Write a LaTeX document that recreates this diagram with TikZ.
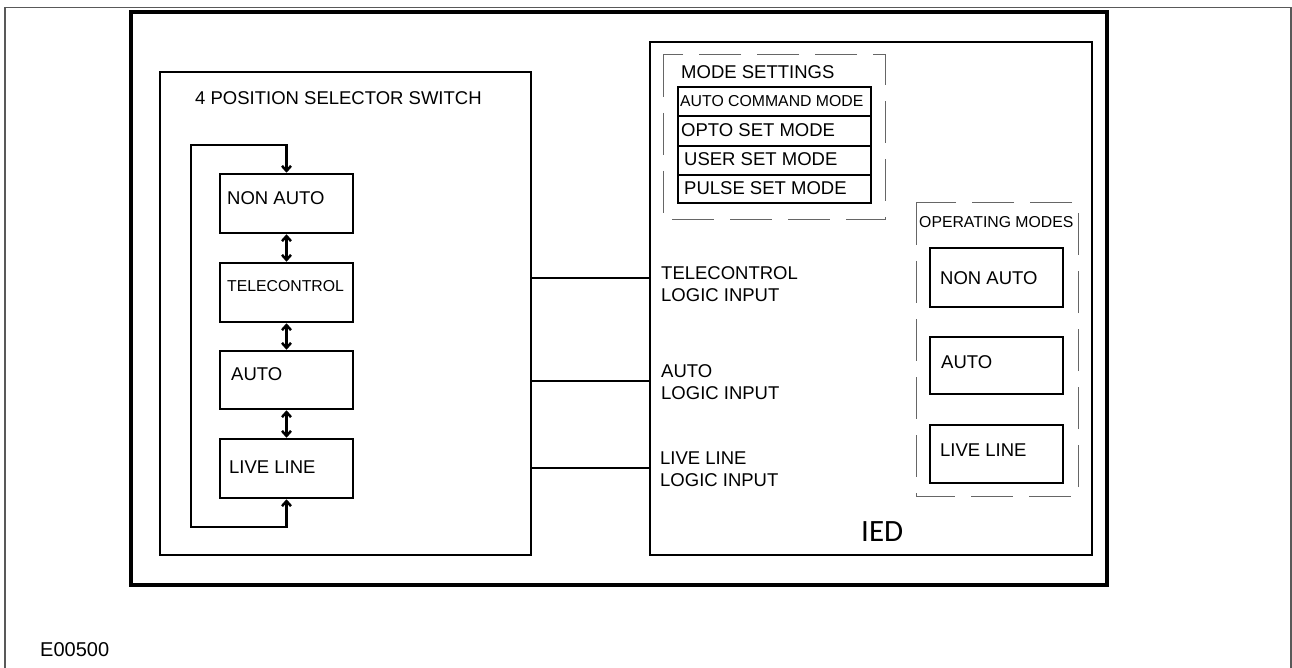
\documentclass[tikz,border=0pt]{standalone}
\usepackage{fontspec}
\setmainfont{Liberation Sans}
\newfontfamily\iedfont{Carlito}
\usetikzlibrary{arrows.meta}
\begin{document}
\begin{tikzpicture}[x=1pt,y=-1pt,
  frame/.style={draw=black!65,line width=1.5},
  mainbox/.style={draw,line width=4},
  bigbox/.style={draw,line width=2.5},
  modebox/.style={draw,line width=2.5,rectangle,inner sep=0pt},
  dbox/.style={draw=black!60,line width=1,dash pattern=on 42 off 16},
  conn/.style={line width=2.5},
  rowline/.style={line width=2},
  txt/.style={inner sep=0pt,anchor=west,font=\fontsize{18.5}{22}\selectfont},
  stxt/.style={inner sep=0pt,anchor=west,font=\fontsize{15.8}{19}\selectfont},
  dbl/.style={line width=2.5,{Straight Barb[length=5,width=9]}-{Straight Barb[length=5,width=9]}},
  sgl/.style={line width=2.5,-{Straight Barb[length=5,width=9]}}
]
\useasboundingbox (0,0) rectangle (1292,668);
\fill[white] (0,0) rectangle (1292,668);
% outer gray frame
\draw[frame] (5,668) -- (5,7.5) -- (1291,7.5) -- (1291,668);
% main box
\draw[mainbox] (131,12) rectangle (1107,585);
% selector switch box and IED box
\node[bigbox,minimum width=371,minimum height=483,inner sep=0pt] (sel) at (345.5,313.5) {};
\node[bigbox,minimum width=442,minimum height=513,inner sep=0pt] (ied) at (871,298.5) {};
\node[txt] (seltitle) at (195,98) {4 POSITION SELECTOR SWITCH};
% selector boxes
\node[modebox,minimum width=133,minimum height=59] (na) at (286.5,203.5) {};
\node[modebox,minimum width=133,minimum height=59] (tc) at (286.5,292.5) {};
\node[modebox,minimum width=133,minimum height=58] (au) at (286.5,380) {};
\node[modebox,minimum width=133,minimum height=59] (ll) at (286.5,468.5) {};
\node[txt] (tna) at (227,198) {NON AUTO};
\node[stxt] (ttc) at (227,286) {TELECONTROL};
\node[txt] (tau) at (231,374) {AUTO};
\node[txt] (tll) at (229,467) {LIVE LINE};
\draw[dbl] (na.south) -- (tc.north);
\draw[dbl] (tc.south) -- (au.north);
\draw[dbl] (au.south) -- (ll.north);
\coordinate (lpb) at (191,527);
\coordinate (lpt) at (191,145);
\draw[dbl,line join=miter] (ll.south) -- (ll.south |- lpb) -- (lpb) -- (lpt) -- (na.north |- lpt) -- (na.north);
% connectors
\coordinate (c1) at (0,278);
\coordinate (c2) at (0,381);
\coordinate (c3) at (0,468);
\draw[conn] (sel.east |- c1) -- (ied.west |- c1);
\draw[conn] (sel.east |- c2) -- (ied.west |- c2);
\draw[conn] (sel.east |- c3) -- (ied.west |- c3);
\node[txt,align=left] (ltc) at (661,284) {TELECONTROL\\LOGIC INPUT};
\node[txt,align=left] (lau) at (661,382) {AUTO\\LOGIC INPUT};
\node[txt,align=left] (lll) at (660,469) {LIVE LINE\\LOGIC INPUT};
% mode settings
\draw[dbox] (663,55) rectangle (885,220);
\node[txt] (msh) at (681,72) {MODE SETTINGS};
\draw[rowline] (678,87) rectangle (871,203);
\draw[rowline] (678,116) -- (871,116);
\draw[rowline] (678,146) -- (871,146);
\draw[rowline] (678,175) -- (871,175);
\node[stxt] (m1) at (680,101.5) {AUTO COMMAND MODE};
\node[txt] (m2) at (681,130) {OPTO SET MODE};
\node[txt] (m3) at (684,159.5) {USER SET MODE};
\node[txt] (m4) at (684,188) {PULSE SET MODE};
% operating modes
\draw[dbox] (916,203) rectangle (1078,496);
\node[stxt] (omh) at (919,222) {OPERATING MODES};
\node[modebox,minimum width=133,minimum height=59] (ona) at (996.5,277.5) {};
\node[modebox,minimum width=133,minimum height=57] (oau) at (996.5,365.5) {};
\node[modebox,minimum width=133,minimum height=58] (oll) at (996.5,454) {};
\node[txt] (tona) at (940,278) {NON AUTO};
\node[txt] (toau) at (941,362) {AUTO};
\node[txt] (toll) at (940,450) {LIVE LINE};
% IED label
\node[inner sep=0pt,anchor=west,font=\iedfont\fontsize{31}{36}\selectfont] (iedl) at (861,531.5) {IED};
% figure code
\node[inner sep=0pt,anchor=west,font=\fontsize{20}{24}\selectfont] (code) at (40,650) {E00500};
\end{tikzpicture}
\end{document}
